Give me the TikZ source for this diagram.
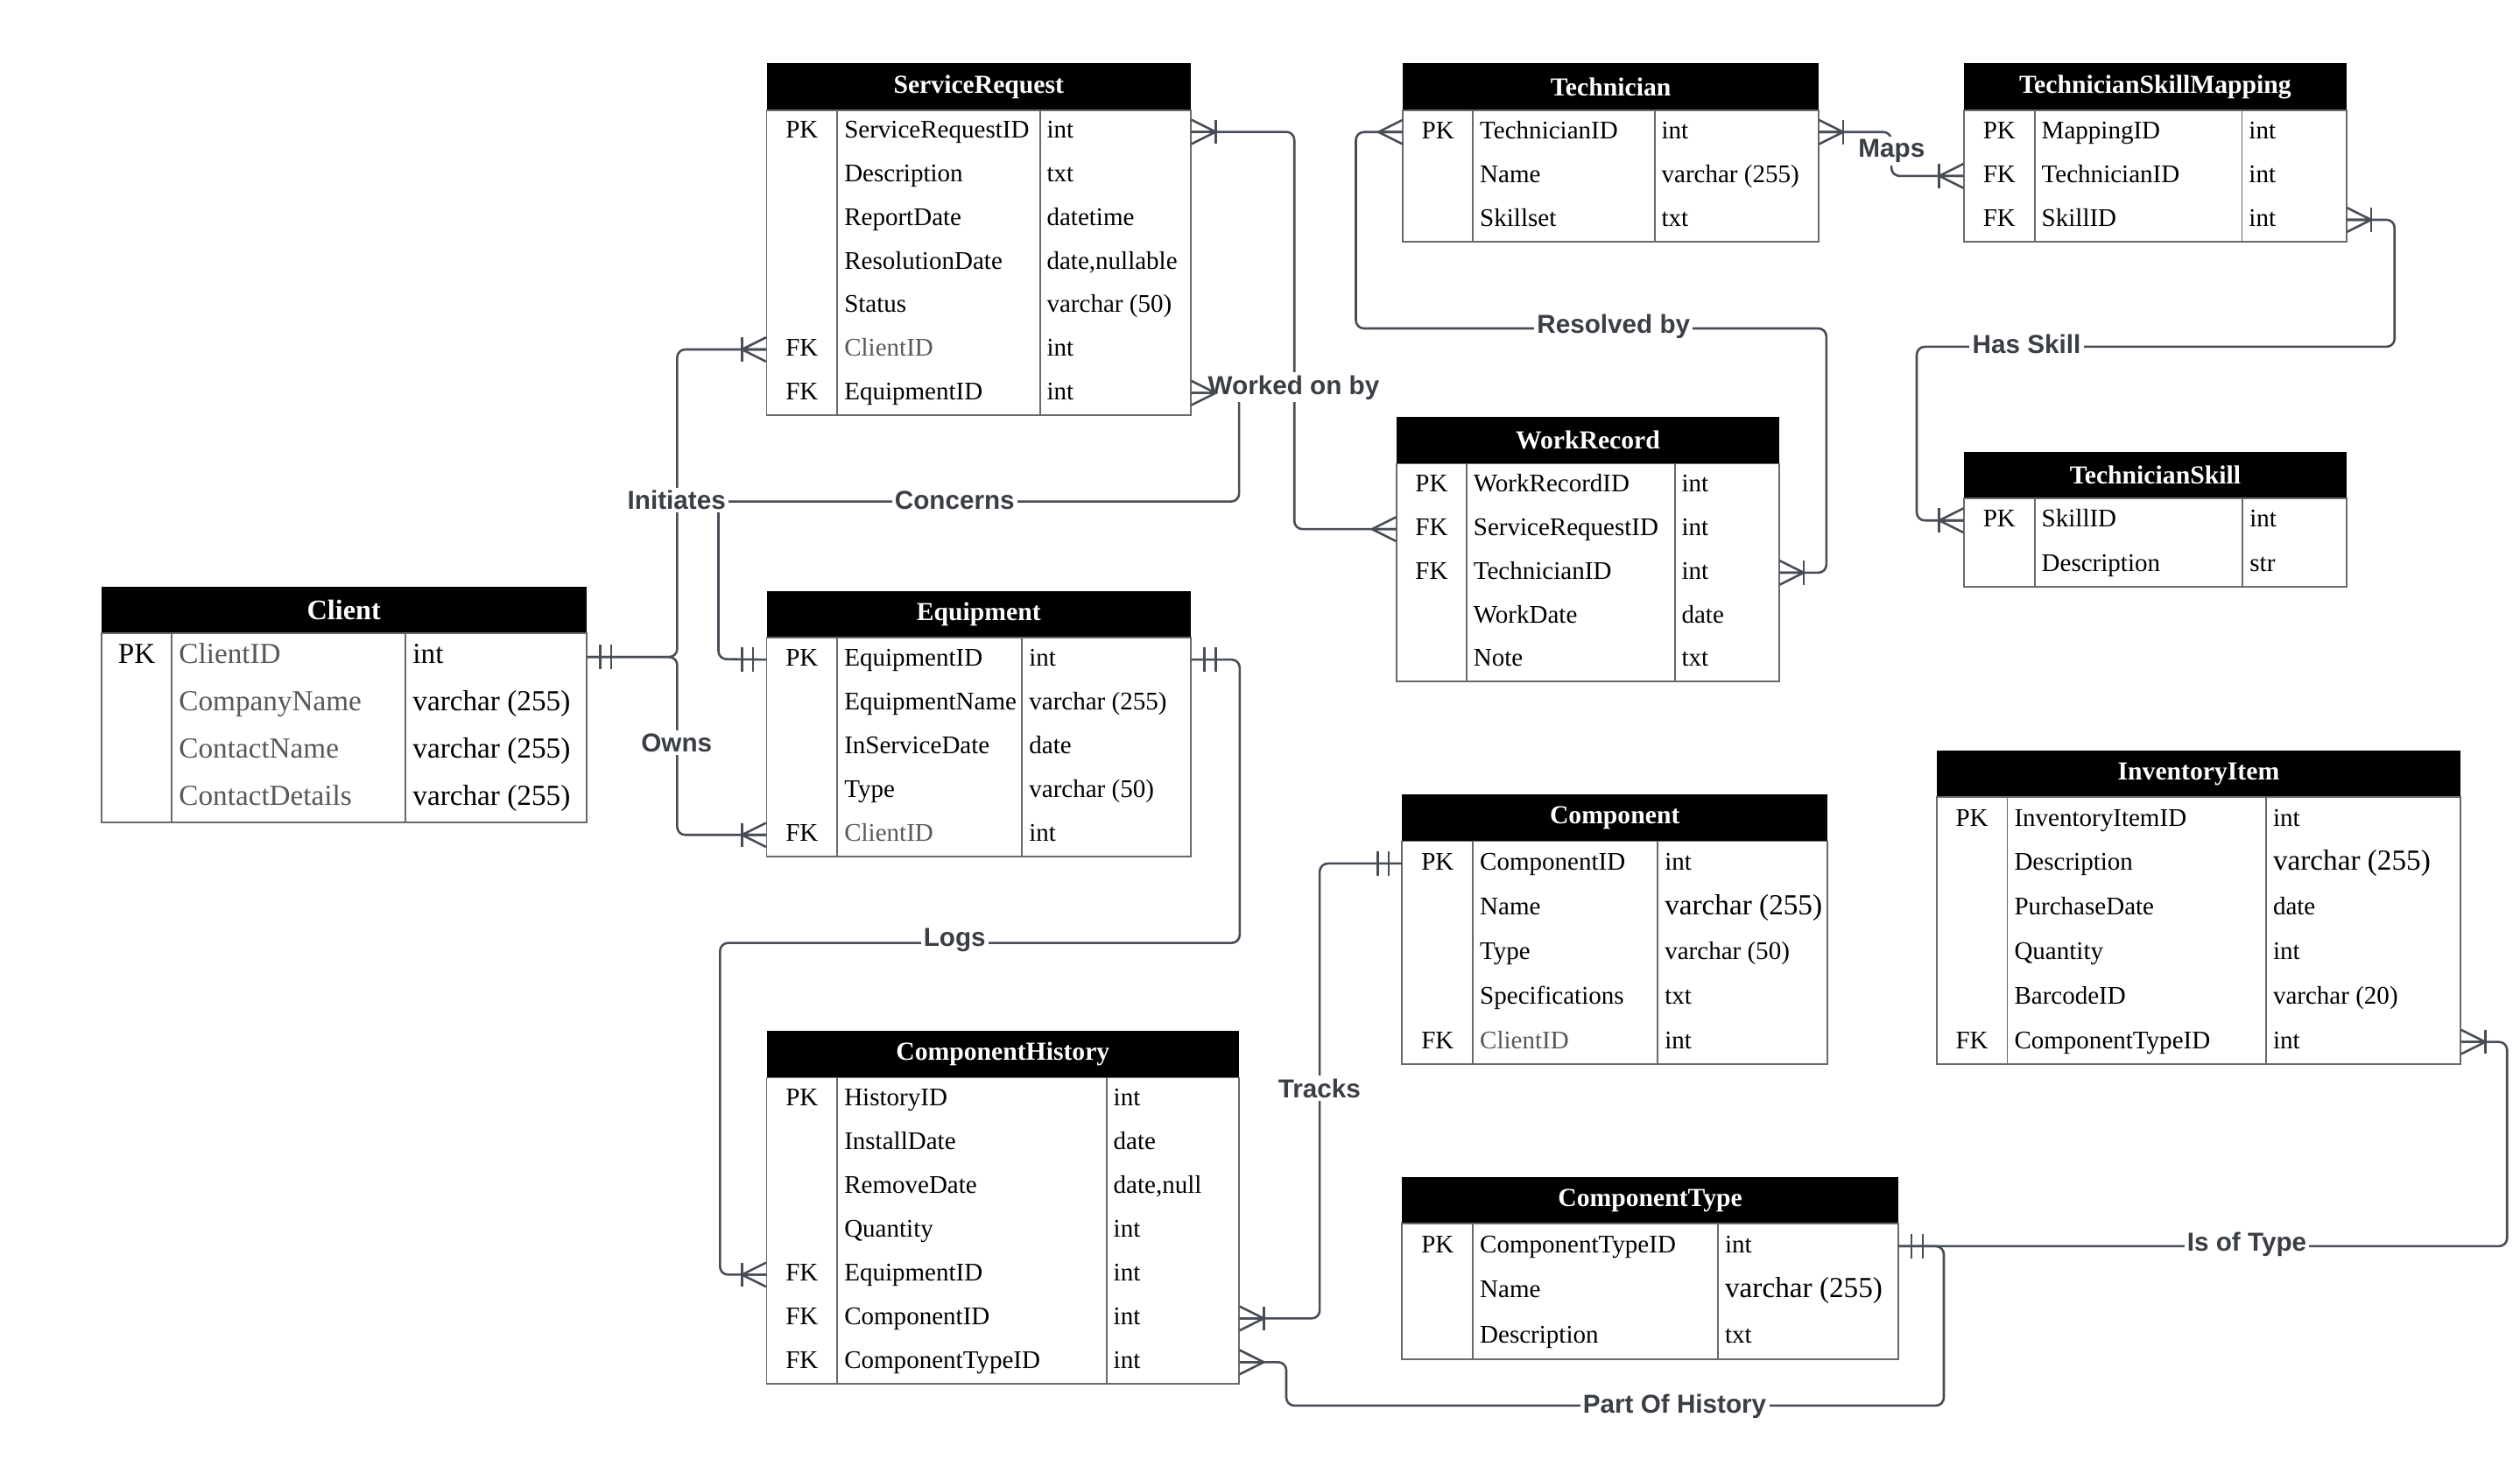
\documentclass[tikz,border=0pt]{standalone}
\usepackage{fontspec}
\setmainfont{Liberation Serif}
\setsansfont{Liberation Sans}
\usepackage{tikz}
\usetikzlibrary{calc,fit}
\definecolor{linegray}{RGB}{71,77,87}
\definecolor{labelgray}{RGB}{58,62,69}
\definecolor{fieldgray}{RGB}{88,88,88}
\definecolor{bordergray}{RGB}{105,105,105}

\newcommand{\bigcell}[1]{{\fontsize{10.3}{12}\selectfont #1}}
\newcommand{\faded}[1]{\textcolor{fieldgray}{#1}}

% entity table: name, left, right, col1, col2, top, bottom, title, rows
\newcommand{\entity}[9]{%
  \foreach \r [count=\n] in {#9} {\xdef\nrows{\n}}
  \pgfmathsetmacro\hb{#6+29}
  \pgfmathsetmacro\rh{(#7-\hb)/\nrows}
  \fill[black] (#2,#6) rectangle (#3,\hb);
  \node[enthead] (#1) at ({(#2+#3)/2},{(#6+\hb)/2}) {#8};
  \draw[entline] (#2,\hb) rectangle (#3,#7) (#4,\hb) -- (#4,#7) (#5,\hb) -- (#5,#7);
  \foreach \ek/\ef/\et [count=\i] in {#9} {
    \pgfmathsetmacro\ym{\hb+(\i-0.5)*\rh}
    \node[rowbox, fit={(#2,\ym-\rh/2) (#3,\ym+\rh/2)}] (#1\i) {};
    \node[keytext] at ({(#2+#4)/2},\ym) {\ek};
    \node[celltext] at (#4+4,\ym) {\ef};
    \node[celltext] at (#5+4,\ym) {\et};
  }
}

% crow's foot ends: anchor, direction away from the table
\newcommand{\crow}[2]{\draw[endline] ($(#1)+(0,-7.5)$) -- ($(#1)+(#2*15,0)$) -- ($(#1)+(0,7.5)$) (#1) -- ($(#1)+(#2*15,0)$);}
\newcommand{\crowbar}[2]{\crow{#1}{#2}\draw[endline] ($(#1)+(#2*15,-7.5)$) -- ($(#1)+(#2*15,7.5)$);}
\newcommand{\onlyone}[2]{\draw[endline] ($(#1)+(#2*8,-7.5)$) -- ($(#1)+(#2*8,7.5)$) ($(#1)+(#2*15,-7.5)$) -- ($(#1)+(#2*15,7.5)$);}

\begin{document}
\begin{tikzpicture}[x=0.2mm, y=-0.2mm,
    enthead/.style={text=white, inner sep=0pt, font=\bfseries\fontsize{9.2}{11}\selectfont},
    entline/.style={draw=bordergray, line width=0.6pt},
    rowbox/.style={inner sep=0pt, draw=none},
    keytext/.style={anchor=mid, inner sep=0pt, font=\fontsize{9}{11}\selectfont},
    celltext/.style={anchor=mid west, inner sep=0pt, font=\fontsize{9}{11}\selectfont},
    relline/.style={draw=linegray, line width=0.8pt, rounded corners=1mm},
    endline/.style={draw=linegray, line width=0.8pt},
    rellabel/.style={fill=white, text=labelgray, inner sep=1pt, font=\sffamily\bfseries\fontsize{9.2}{11}\selectfont}]
    \useasboundingbox (0,0) rectangle (1568,921);

    % Tables
    \entity{sr}{477}{741}{521}{647}{39.5}{258}{ServiceRequest}{PK/ServiceRequestID/int, /Description/txt, /ReportDate/datetime, /ResolutionDate/{date,nullable}, /Status/varchar (50), FK/\faded{ClientID}/int, FK/EquipmentID/int}
    \entity{tech}{873}{1131.5}{916.5}{1029.5}{39.5}{150.4}{Technician}{PK/TechnicianID/int, /Name/varchar (255), /Skillset/txt}
    \entity{tsm}{1222}{1460}{1266}{1395}{39.5}{150.4}{TechnicianSkillMapping}{PK/MappingID/int, FK/TechnicianID/int, FK/SkillID/int}
    \entity{wr}{869}{1107}{912.5}{1042}{259.5}{424}{WorkRecord}{PK/WorkRecordID/int, FK/ServiceRequestID/int, FK/TechnicianID/int, /WorkDate/date, /Note/txt}
    \entity{ts}{1222}{1460}{1266}{1395.5}{281}{365}{TechnicianSkill}{PK/SkillID/int, /Description/str}
    \begin{scope}[celltext/.append style={font=\fontsize{10.3}{12}\selectfont},
                  keytext/.append style={font=\fontsize{10.3}{12}\selectfont},
                  enthead/.append style={font=\bfseries\fontsize{10}{12}\selectfont}]
      \entity{cl}{63}{365}{107}{252.5}{365}{511.5}{Client}{PK/\faded{ClientID}/int, /\faded{CompanyName}/varchar (255), /\faded{ContactName}/varchar (255), /\faded{ContactDetails}/varchar (255)}
    \end{scope}
    \entity{eq}{477}{741}{521}{636}{367.7}{533}{Equipment}{PK/EquipmentID/int, /EquipmentName/varchar (255), /InServiceDate/date, /Type/varchar (50), FK/\faded{ClientID}/int}
    \entity{comp}{872.5}{1137}{916.5}{1031.5}{494.3}{662}{Component}{PK/ComponentID/int, /Name/\bigcell{varchar (255)}, /Type/varchar (50), /Specifications/txt, FK/\faded{ClientID}/int}
    \entity{inv}{1205}{1531}{1249}{1410}{467}{662}{InventoryItem}{PK/InventoryItemID/int, /Description/\bigcell{varchar (255)}, /PurchaseDate/date, /Quantity/int, /BarcodeID/varchar (20), FK/ComponentTypeID/int}
    \entity{ch}{477}{771}{521}{688.5}{641.4}{861}{ComponentHistory}{PK/HistoryID/int, /InstallDate/date, /RemoveDate/{date,null}, /Quantity/int, FK/EquipmentID/int, FK/ComponentID/int, FK/ComponentTypeID/int}
    \entity{ct}{872.5}{1181}{916.5}{1069}{732.2}{845.4}{ComponentType}{PK/ComponentTypeID/int, /Name/\bigcell{varchar (255)}, /Description/txt}

    % Relationships
    \draw[relline] (cl1.east) -- ++(56,0) |- (sr6.west);
    \draw[relline] (cl1.east) -- ++(56,0) |- (eq5.west);
    \draw[relline] (sr7.east) -| (771,312) -| (447,410) -- (eq1.west);
    \draw[relline] (sr1.east) -- ++(64,0) |- (wr2.west);
    \draw[relline] (tech1.west) -- ++(-29,0) |- (1136.4,204.3) |- (wr3.east);
    \draw[relline] (tech1.east) -- ++(45,0) |- (tsm2.west);
    \draw[relline] (tsm3.east) -- ++(29.6,0) |- (1192.6,215.7) |- (ts1.west);
    \draw[relline] (eq1.east) -- ++(30,0) |- (448,586.6) |- (ch5.west);
    \draw[relline] (comp1.west) -- ++(-51,0) |- (ch6.east);
    \draw[relline] (ch7.east) -- ++(29,0) |- (1209.5,874.4) |- (ct1.east);
    \draw[relline] (ct1.east) -| ($(inv6.east)+(28.6,0)$) -- (inv6.east);

    % Labels
    \node[rellabel] (lbl-initiates) at (421,311) {Initiates};
    \node[rellabel] (lbl-concerns) at (594,311) {Concerns};
    \node[rellabel] (lbl-owns) at (421,462) {Owns};
    \node[rellabel] (lbl-worked) at (805,241) {Worked on by};
    \node[rellabel] (lbl-logs) at (594,585) {Logs};
    \node[rellabel] (lbl-tracks) at (821,677) {Tracks};
    \node[rellabel] (lbl-history) at (1042,875) {Part Of History};
    \node[rellabel] (lbl-type) at (1398,774) {Is of Type};
    \node[rellabel] (lbl-resolved) at (1004,203) {Resolved by};
    \node[rellabel] (lbl-maps) at (1177,94) {Maps};
    \node[rellabel] (lbl-skill) at (1261,214) {Has Skill};

    % Line ends
    \onlyone{cl1.east}{1}
    \crowbar{sr6.west}{-1}
    \crowbar{eq5.west}{-1}
    \crow{sr7.east}{1}
    \onlyone{eq1.west}{-1}
    \crowbar{sr1.east}{1}
    \crow{wr2.west}{-1}
    \crow{tech1.west}{-1}
    \crowbar{wr3.east}{1}
    \crowbar{tech1.east}{1}
    \crowbar{tsm2.west}{-1}
    \crowbar{tsm3.east}{1}
    \crowbar{ts1.west}{-1}
    \onlyone{eq1.east}{1}
    \crowbar{ch5.west}{-1}
    \onlyone{comp1.west}{-1}
    \crowbar{ch6.east}{1}
    \crow{ch7.east}{1}
    \onlyone{ct1.east}{1}
    \crowbar{inv6.east}{1}
\end{tikzpicture}
\end{document}
